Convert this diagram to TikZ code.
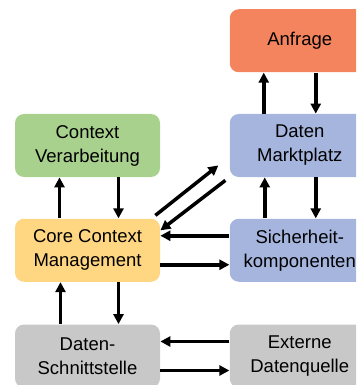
\documentclass[tikz,border=0pt]{standalone}
\usepackage{fontspec}
\setmainfont{Liberation Sans}
\usepackage{tikz}
\usetikzlibrary{positioning, arrows.meta}
\tikzset{every picture/.style={line width=0.75pt}}

\definecolor{anfrageorange}{HTML}{F4845E}
\definecolor{ctxgreen}{HTML}{A9D18E}
\definecolor{mpblue}{HTML}{A5B5DE}
\definecolor{coreyellow}{HTML}{FFD782}
\definecolor{dsgray}{HTML}{C8C8C8}

\begin{document}
\begin{tikzpicture}[node distance=41pt and 69pt,
        every node/.style={font=\fontsize{18.5}{24}\selectfont, align=center},
        box/.style={rounded corners=9pt, minimum height=63pt, inner sep=0pt},
        leftbox/.style={box, minimum width=145pt},
        rightbox/.style={box, minimum width=140pt},
        flow/.style={draw, line width=3.5pt, -{Triangle[length=10pt,width=10pt]}}]
        \useasboundingbox (0,0) rectangle (356pt,-385pt);
        \clip (0,0) rectangle (356pt,-385pt);
        \node[leftbox, fill=ctxgreen] (cv) at (87.5pt,-145.5pt) {Context\\Verarbeitung};
        \node[rightbox, fill=mpblue, right=of cv] (mp) {Daten\\Marktplatz};
        \node[rightbox, fill=anfrageorange, above=of mp] (anf) {Anfrage};
        \node[leftbox, fill=coreyellow, below=of cv] (core) {Core Context\\Management};
        \node[rightbox, fill=mpblue, right=of core] (sk) {Sicherheit-\\komponenten};
        \node[leftbox, fill=dsgray, below=42pt of core] (ds) {Daten-\\Schnittstelle};
        \node[rightbox, fill=dsgray, right=of ds] (ext) {Externe\\Datenquelle};
        \path[every edge/.style={flow}]
            ([xshift=-36pt]mp.north) edge ([xshift=-36pt]anf.south)
            ([xshift=16pt]anf.south) edge ([xshift=16pt]mp.north)
            ([xshift=-35pt]sk.north) edge ([xshift=-35pt]mp.south)
            ([xshift=16pt]mp.south) edge ([xshift=16pt]sk.north)
            ([xshift=-28pt]core.north) edge ([xshift=-28pt]cv.south)
            ([xshift=31pt]cv.south) edge ([xshift=31pt]core.north)
            ([xshift=-27pt]ds.north) edge ([xshift=-27pt]core.south)
            ([xshift=31pt]core.south) edge ([xshift=31pt]ds.north)
            ([yshift=14.5pt]sk.west) edge ([yshift=14.5pt]core.east)
            ([yshift=-14.5pt]core.east) edge ([yshift=-14.5pt]sk.west)
            ([yshift=14.5pt]ext.west) edge ([yshift=14.5pt]ds.east)
            ([yshift=-14.5pt]ds.east) edge ([yshift=-14.5pt]ext.west)
            ([shift={(-5pt,3pt)}]core.north east) edge ([shift={(-11pt,12pt)}]mp.south west)
            ([shift={(-4pt,-3pt)}]mp.south west) edge ([shift={(0pt,-12pt)}]core.north east)
            ;
    \end{tikzpicture}
\end{document}
